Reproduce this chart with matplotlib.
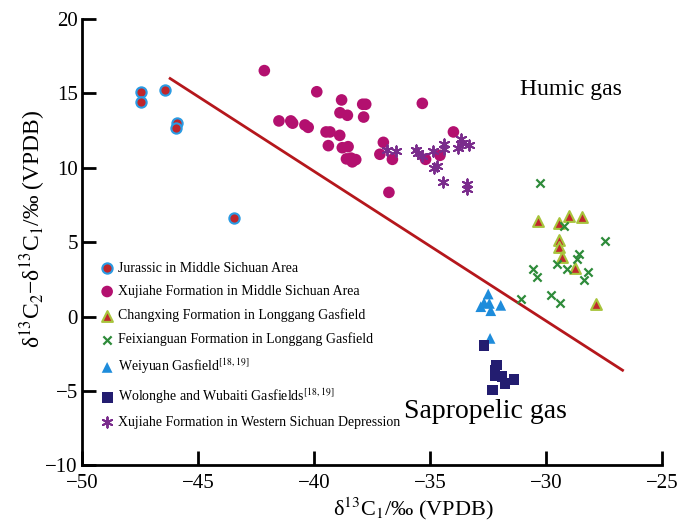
import numpy as np
import matplotlib.pyplot as plt

plt.rcParams['font.family'] = ['Liberation Serif', 'DejaVu Serif']
plt.rcParams['mathtext.fontset'] = 'stix'

# Jurassic in Middle Sichuan Area
jur_x = [-47.44, -47.44, -46.41, -45.90, -45.93, -43.46]
jur_y = [15.11, 14.40, 15.25, 13.03, 12.67, 6.61]

# Xujiahe Formation in Middle Sichuan Area
xjm_x = [-42.14, -41.51, -40.96, -40.39, -39.88, -38.81, -37.90, -37.77, -38.88, -38.56,
         -37.86, -41.00, -40.92, -40.25, -39.48, -39.31, -38.89, -39.38, -38.78, -38.53,
         -38.60, -38.40, -38.20, -38.35, -37.01, -37.16, -36.62, -36.77, -35.33, -33.99,
         -35.19, -34.57]
xjm_y = [16.53, 13.15, 13.06, 12.88, 15.11, 14.56, 14.27, 14.27, 13.70, 13.53,
         13.41, 13.15, 13.00, 12.72, 12.41, 12.41, 12.18, 11.49, 11.35, 11.42,
         10.60, 10.65, 10.55, 10.40, 11.71, 10.91, 10.57, 8.35, 14.33, 12.41,
         10.57, 10.84]

# Changxing Formation in Longgang Gasfield
cx_x = [-30.34, -29.43, -29.00, -28.45, -29.43, -29.43, -29.33, -28.75, -27.84]
cx_y = [6.42, 6.27, 6.76, 6.67, 5.15, 4.66, 3.99, 3.29, 0.83]

# Feixianguan Formation in Longgang Gasfield
fx_x = [-30.26, -29.22, -27.44, -28.56, -28.68, -30.55, -30.40, -29.54, -29.11, -28.18,
        -28.35, -29.80, -29.40, -31.09]
fx_y = [9.00, 6.11, 5.10, 4.19, 3.87, 3.18, 2.68, 3.51, 3.18, 2.98,
        2.46, 1.45, 0.93, 1.16]

# Weiyuan Gasfield
wy_x = [-32.49, -32.67, -32.44, -32.81, -32.38, -31.95, -32.41]
wy_y = [1.52, 0.93, 0.89, 0.67, 0.40, 0.76, -1.46]

# Wolonghe and Wubaiti Gasfields
wl_x = [-32.67, -32.13, -32.20, -32.16, -31.77, -31.38, -32.30, -31.90]
wl_y = [-1.95, -3.25, -3.59, -3.99, -4.48, -4.21, -4.93, -4.04]

# Xujiahe Formation in Western Sichuan Depression
xjw_x = [-36.87, -36.47, -35.62, -35.50, -35.36, -34.86, -34.71, -34.83, -34.40, -34.40,
         -33.68, -33.60, -33.31, -33.78, -34.43, -33.42, -33.42]
xjw_y = [11.20, 11.15, 11.20, 10.97, 10.79, 11.13, 10.12, 9.96, 11.60, 11.26,
         11.92, 11.69, 11.55, 11.31, 9.07, 8.91, 8.55]

# boundary line
line_x = [-46.2, -26.7]
line_y = [16.0, -3.6]

fig = plt.figure(figsize=(6.86, 5.27), dpi=100)
ax = fig.add_axes([0.1195, 0.1167, 0.8455, 0.8473])

ax.plot(line_x, line_y, color='#B5171C', lw=2, zorder=2)

ax.scatter(jur_x, jur_y, s=55, c='#C0262B', edgecolors='#2A9BE3', linewidths=1.5,
           label='Jurassic in Middle Sichuan Area', zorder=3)
ax.scatter(xjm_x, xjm_y, s=70, c='#B3106F', edgecolors='none',
           label='Xujiahe Formation in Middle Sichuan Area', zorder=3)
ax.scatter(cx_x, cx_y, s=60, marker='^', c='#C1272D', edgecolors='#A8C43C', linewidths=1.5,
           label='Changxing Formation in Longgang Gasfield', zorder=3)
ax.scatter(fx_x, fx_y, s=35, marker='x', c='#2E8B3A', linewidths=1.6,
           label='Feixianguan Formation in Longgang Gasfield', zorder=3)
ax.scatter(wy_x, wy_y, s=60, marker='^', c='#1E8CDB', edgecolors='none',
           label='Weiyuan Gasfield$^{[18,19]}$', zorder=3)
ax.scatter(wl_x, wl_y, s=60, marker='s', c='#231D70', edgecolors='none',
           label='Wolonghe and Wubaiti Gasfields$^{[18,19]}$', zorder=3)
ax.scatter(xjw_x, xjw_y, s=55, marker=(6, 2, 0), c='#7A2C8C', linewidths=1.4,
           label='Xujiahe Formation in Western Sichuan Depression', zorder=3)

ax.set_xlim(-50, -25)
ax.set_ylim(-10, 20)
ax.set_xticks([-50, -45, -40, -35, -30, -25])
ax.set_yticks([-10, -5, 0, 5, 10, 15, 20])
ax.set_xticklabels(['\u221250', '\u221245', '\u221240', '\u221235', '\u221230', '\u221225'])
ax.set_yticklabels(['\u221210', '\u22125', '0', '5', '10', '15', '20'])
ax.spines['top'].set_visible(False)
ax.spines['right'].set_visible(False)
ax.spines['left'].set_linewidth(2)
ax.spines['bottom'].set_linewidth(2)
ax.tick_params(direction='in', length=10, width=2, labelsize=15)
ax.tick_params(axis='x', pad=6)
ax.tick_params(axis='y', pad=3)

ax.set_xlabel('δ$^{13}$C$_1$/‰ (VPDB)', fontsize=16)
ax.xaxis.set_label_coords(0.571, -0.068)
ax.set_ylabel('δ$^{13}$C$_2$\u2212δ$^{13}$C$_1$/‰ (VPDB)', fontsize=17)
ax.yaxis.set_label_coords(-0.058, 0.53)

ax.text(-31.1, 14.9, 'Humic gas', fontsize=17)
ax.text(-36.1, -6.8, 'Sapropelic gas', fontsize=20)

ax.legend(loc='upper left', bbox_to_anchor=(0.029, 0.456), frameon=False, fontsize=10,
          handletextpad=0.2, labelspacing=0.74, borderaxespad=0, borderpad=0,
          handlelength=1.2)

fig.savefig('out.png', dpi=100)
